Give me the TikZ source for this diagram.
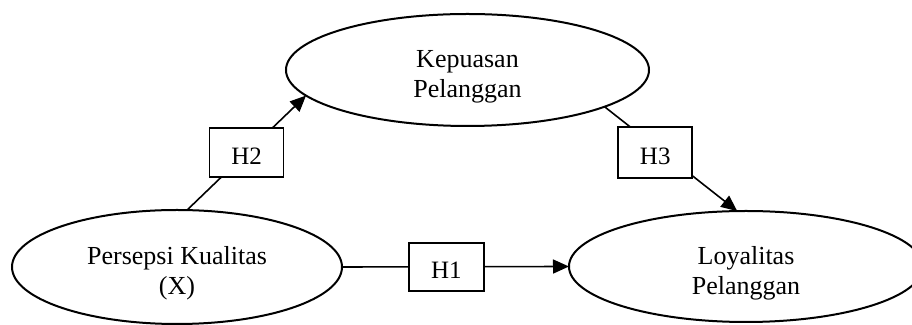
\documentclass[tikz,border=0pt]{standalone}
\usepackage{fontspec}
\setmainfont{Liberation Serif}
\usepackage{tikz}
\usetikzlibrary{arrows.meta, shapes.geometric}

\begin{document}
\begin{tikzpicture}[x=0.5pt, y=-0.5pt,
  var/.style={draw, ellipse, line width=1pt, outer sep=0pt, inner sep=0pt},
  vartext/.style={align=center, yshift=-3.2pt, font=\fontsize{13}{15}\selectfont},
  hyp/.style={draw, fill=white, line width=0.9pt, inner sep=0pt, minimum width=37pt, minimum height=24.5pt,
    text height=12pt, text depth=0pt, font=\fontsize{12.5}{15}\selectfont},
  link/.style={line width=0.8pt},
  tip/.style={-{Triangle[length=8pt, width=7pt]}}]
\useasboundingbox (0,0) rectangle (912,325);
\node[var, minimum width=165pt, minimum height=57pt, label={[vartext]center:Persepsi Kualitas\\(X)}] (px) at (177,267) {};
\node[var, minimum width=181.5pt, minimum height=56pt, label={[vartext]center:Kepuasan\\Pelanggan}] (kp) at (467.5,70) {};
\node[var, minimum width=177pt, minimum height=55.5pt, label={[vartext]center:Loyalitas\\Pelanggan}] (ly) at (746,266.5) {};
\draw[link, tip] (px.east) -- node[hyp, pos=.46, minimum width=37.5pt, minimum height=24pt] (h1) {H1} (ly.west);
\draw[link, tip] (px.80) -- node[hyp, pos=.5] (h2) {H2} (kp.189);
\draw[link, tip] (kp.-15) -- node[hyp, pos=.435, xshift=-3.5pt, minimum height=25.5pt] (h3) {H3} (ly.99);
\end{tikzpicture}
\end{document}
